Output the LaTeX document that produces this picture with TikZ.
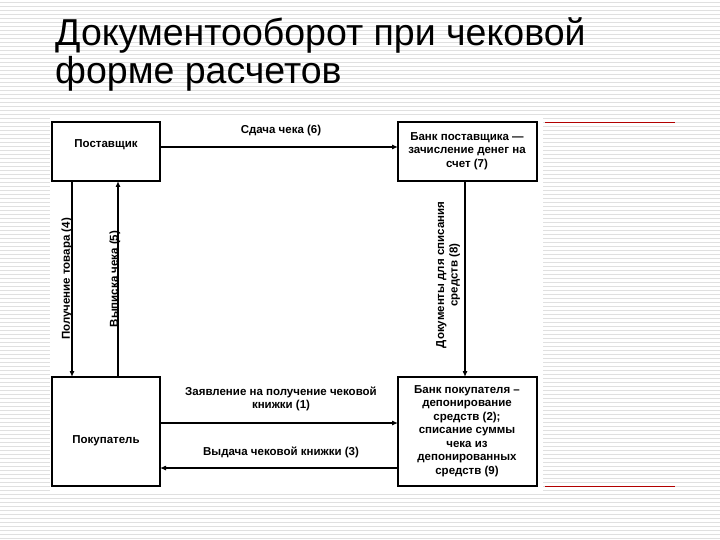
\documentclass[tikz,border=0pt]{standalone}
\usepackage{fontspec}
\setmainfont{Liberation Sans}
\usetikzlibrary{arrows.meta}
\begin{document}
\begin{tikzpicture}[x=1pt,y=-1pt,
  box/.style={draw,line width=1.2pt,fill=white,inner sep=0pt},
  lbl/.style={font=\fontsize{11.5}{13.5}\selectfont\bfseries,align=center,inner sep=0pt},
  arr/.style={line width=1.1pt,-{Latex[length=6pt,width=5pt]}}]
\useasboundingbox (0,0) rectangle (720,540);
\fill[white] (0,0) rectangle (720,540);
\foreach \y in {2,6,...,538} \draw[black!12,line width=0.6pt] (0,\y) -- (720,\y);
\fill[white] (50,117) rectangle (543,493);
\draw[red!70!black,line width=0.8pt] (545,122) -- (675,122);
\draw[red!70!black,line width=0.8pt] (545,486) -- (675,486);
\node[anchor=base west,inner sep=0,font=\fontsize{37.5}{42}\selectfont] (t1) at (55,46) {Документооборот при чековой};
\node[anchor=base west,inner sep=0,font=\fontsize{37.5}{42}\selectfont] (t2) at (55,84) {форме расчетов};
\draw[box] (52,122) rectangle (160,181);
\draw[box] (398,122) rectangle (537,181);
\draw[box] (52,377) rectangle (160,486);
\draw[box] (398,377) rectangle (537,486);
\node[lbl] (sup) at (106,145) {Поставщик};
\node[lbl] (bs) at (467,151) {Банк поставщика —\\зачисление денег на\\счет (7)};
\node[lbl] (buy) at (106,441) {Покупатель};
\node[lbl] (bb) at (467,431) {Банк покупателя –\\депонирование\\средств (2);\\списание суммы\\чека из\\депонированных\\средств (9)};
\coordinate (a1) at (160,147); \coordinate (a2) at (398,147);
\draw[arr] (a1) -- (a2);
\node[lbl] (l6) at (281,131) {Сдача чека (6)};
\coordinate (b1) at (72,181); \coordinate (b2) at (72,377);
\draw[arr] (b1) -- (b2);
\node[lbl,rotate=90] (l4) at (67,279) {Получение товара (4)};
\coordinate (c1) at (118,377); \coordinate (c2) at (118,181);
\draw[arr] (c1) -- (c2);
\node[lbl,rotate=90] (l5) at (115,279) {Выписка чека (5)};
\coordinate (d1) at (465,181); \coordinate (d2) at (465,377);
\draw[arr] (d1) -- (d2);
\node[lbl,rotate=90] (l8) at (448,275) {Документы для списания\\средств (8)};
\coordinate (e1) at (160,423); \coordinate (e2) at (398,423);
\draw[arr] (e1) -- (e2);
\node[lbl] (l1) at (281,399) {Заявление на получение чековой\\книжки (1)};
\coordinate (f1) at (398,468); \coordinate (f2) at (160,468);
\draw[arr] (f1) -- (f2);
\node[lbl] (l3) at (281,452) {Выдача чековой книжки (3)};
\end{tikzpicture}
\end{document}
